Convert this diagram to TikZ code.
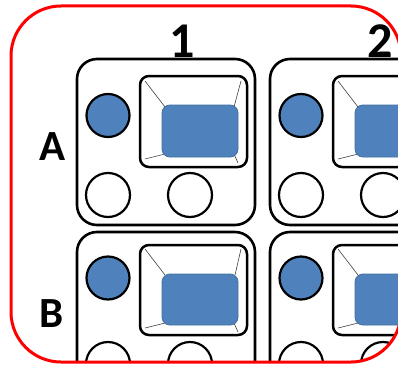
\documentclass[tikz,border=0pt]{standalone}
\usepackage{fontspec}
\setmainfont{Carlito}
\definecolor{wellblue}{HTML}{4F81BD}
\definecolor{welledge}{HTML}{41719C}
\begin{document}
\begin{tikzpicture}[x=1pt,y=-1pt,
  outerbox/.style={draw=black,line width=2.6pt,rounded corners=20pt,fill=white},
  innerbox/.style={draw=black,line width=2.5pt,rounded corners=9pt},
  bluewell/.style={draw=welledge,line width=0.8pt,fill=wellblue,rounded corners=8pt},
  bluedot/.style={draw=black,line width=2.2pt,fill=wellblue},
  emptydot/.style={draw=black,line width=2.2pt,fill=white},
  bevel/.style={draw=black!75,line width=0.6pt},
  digitlbl/.style={font=\bfseries\fontsize{50}{50}\selectfont,inner sep=0pt,anchor=base},
  letterlbl/.style={font=\bfseries\fontsize{43}{43}\selectfont,inner sep=0pt,anchor=base}]
\useasboundingbox (0,0) rectangle (398,369);
\begin{scope}
\clip[rounded corners=50pt] (11,6) rectangle (401,362);
\foreach \dx in {0,193}{
  \begin{scope}[xshift=\dx pt]
    % row A
    \draw[outerbox] (77,59) rectangle (255,225);
    \draw[bluedot] (108,115.5) circle[radius=21.5];
    \draw[innerbox] (140,76) rectangle (247,167);
    \draw[bevel] (145,81) -- (165,107);
    \draw[bevel] (241,81) -- (234,107);
    \draw[bevel] (145,159) -- (165,154);
    \draw[bevel] (234,154) -- (238,163);
    \draw[bluewell] (162,105) rectangle (238,157);
    \draw[emptydot] (108,195) circle[radius=22];
    \draw[emptydot] (190,195) circle[radius=22];
    % row B
    \draw[outerbox] (77,232) rectangle (255,400);
    \draw[bluedot] (108,278) circle[radius=21.5];
    \draw[innerbox] (140,245) rectangle (247,335);
    \draw[bevel] (145,249) -- (165,275);
    \draw[bevel] (241,249) -- (235,275);
    \draw[bevel] (145,328) -- (165,323);
    \draw[bevel] (234,323) -- (238,332);
    \draw[bluewell] (162,274) rectangle (238,325);
    \draw[emptydot] (108,364) circle[radius=22];
    \draw[emptydot] (190,364) circle[radius=22];
  \end{scope}
}
\node[digitlbl] (col1) at (182,57) {1};
\node[digitlbl] (col2) at (380,57) {2};
\node[letterlbl] (rowA) at (53,160) {A};
\node[letterlbl] (rowB) at (52,327) {B};
\end{scope}
\draw[red,line width=3pt,rounded corners=50pt] (11,6) rectangle (401,362);
\end{tikzpicture}
\end{document}
